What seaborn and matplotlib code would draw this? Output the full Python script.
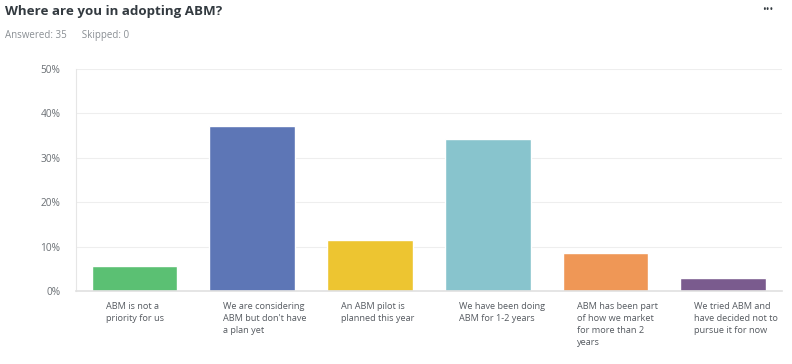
import numpy as np
import pandas as pd
import matplotlib.pyplot as plt
import seaborn as sns

# dati del sondaggio
answers = [
    "ABM is not a\npriority for us",
    "We are considering\nABM but don't have\na plan yet",
    "An ABM pilot is\nplanned this year",
    "We have been doing\nABM for 1-2 years",
    "ABM has been part\nof how we market\nfor more than 2\nyears",
    "We tried ABM and\nhave decided not to\npursue it for now",
]
percent = [5.71, 37.14, 11.43, 34.29, 8.57, 2.86]
colors = ["#5BC073", "#5D76B6", "#EDC531", "#88C4CD", "#EF9756", "#7A5B8E"]
yticks = [0, 10, 20, 30, 40, 50]

df = pd.DataFrame({"answer": answers, "percent": percent})

sns.set_style("white")
plt.rcParams["font.family"] = ["Open Sans", "DejaVu Sans"]

fig = plt.figure(figsize=(7.92, 3.64), dpi=100)
ax = fig.add_axes([0.0955, 0.2005, 0.892, 0.61])

sns.barplot(data=df, x="answer", y="percent", hue="answer", palette=colors,
            legend=False, width=0.73, saturation=1, ax=ax)

ax.set_ylim(0, 50)
ax.set_xlim(-0.5, len(answers) - 0.5)
ax.set_yticks(yticks)
ax.set_yticklabels([f"{t}%" for t in yticks], fontsize=7.3, color="#6a6f74")
ax.tick_params(axis="y", length=0, pad=11)
ax.yaxis.grid(True, color="#EEEEEE", linewidth=0.8)
ax.set_axisbelow(True)
ax.set_xticks([])
ax.set_xlabel("")
ax.set_ylabel("")
for s in ["top", "right"]:
    ax.spines[s].set_visible(False)
ax.spines["left"].set_color("#E6E6E6")
ax.spines["bottom"].set_color("#E0E0E0")
ax.spines["bottom"].set_linewidth(1.2)

# etichette sotto le barre, allineate a sinistra
for i, lab in enumerate(answers):
    ax.text(i - 0.245, -2.4, lab, ha="left", va="top", fontsize=6.6,
            color="#555a60", linespacing=1.45)

fig.text(0.006, 0.985, "Where are you in adopting ABM?", fontsize=9.6,
         fontweight="bold", color="#333a40", va="top")
fig.text(0.006, 0.918, "Answered: 35      Skipped: 0", fontsize=7,
         color="#8a8f94", va="top")
fig.text(0.97, 0.985, "•••", fontsize=7, color="#333a40", ha="center", va="top")

fig.savefig("out.png", dpi=100)
